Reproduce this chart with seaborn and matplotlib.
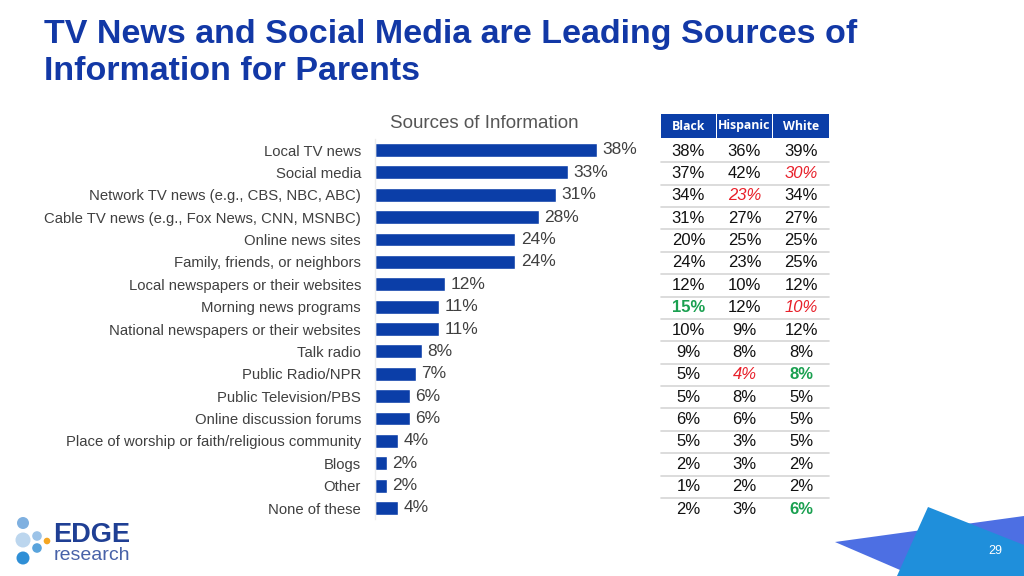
import numpy as np
import pandas as pd
import matplotlib
matplotlib.use("Agg")
import matplotlib.pyplot as plt
import seaborn as sns
from matplotlib.patches import Polygon, Circle, Rectangle

# ---- data ----
sources = [
    "Local TV news", "Social media", "Network TV news (e.g., CBS, NBC, ABC)",
    "Cable TV news (e.g., Fox News, CNN, MSNBC)", "Online news sites",
    "Family, friends, or neighbors", "Local newspapers or their websites",
    "Morning news programs", "National newspapers or their websites",
    "Talk radio", "Public Radio/NPR", "Public Television/PBS",
    "Online discussion forums", "Place of worship or faith/religious community",
    "Blogs", "Other", "None of these",
]
total = [38, 33, 31, 28, 24, 24, 12, 11, 11, 8, 7, 6, 6, 4, 2, 2, 4]
black = [38, 37, 34, 31, 20, 24, 12, 15, 10, 9, 5, 5, 6, 5, 2, 1, 2]
hispanic = [36, 42, 23, 27, 25, 23, 10, 12, 9, 8, 4, 8, 6, 3, 3, 2, 3]
white = [39, 30, 34, 27, 25, 25, 12, 10, 12, 8, 8, 5, 5, 5, 2, 2, 6]
groups = ["Black", "Hispanic", "White"]
# significantly lower (red italic) / higher (green bold): (row, group)
low_cells = [(1, "White"), (2, "Hispanic"), (7, "White"), (10, "Hispanic")]
high_cells = [(7, "Black"), (10, "White"), (16, "White")]

BLUE = "#0b3ea8"
TITLE_BLUE = "#1238a6"
GREY_TXT = "#404040"
RED = "#e8202a"
GREEN = "#1aa050"

sns.set_style("white")
plt.rcParams["font.family"] = ["Liberation Sans", "DejaVu Sans"]

W, H = 1024, 576
fig = plt.figure(figsize=(W / 100, H / 100), dpi=100)

# row geometry (pixels)
row_top, row_bot = 150, 508
step = (row_bot - row_top) / (len(sources) - 1)
ax_top = row_top - step / 2
ax_bot = row_bot + step / 2

# ---- bar chart ----
x0, px_per = 375, 5.84
xmax = 45
ax = fig.add_axes([x0 / W, 1 - ax_bot / H, xmax * px_per / W, (ax_bot - ax_top) / H])
df = pd.DataFrame({"source": sources, "total": total})
sns.barplot(data=df, x="total", y="source", orient="h", color=BLUE,
            saturation=1, width=0.62, ax=ax)
ax.set_xlim(0, xmax)
ax.set_ylim(len(sources) - 0.5, -0.5)
ax.set_xlabel("")
ax.set_ylabel("")
ax.set_xticks([])
ax.tick_params(axis="y", length=0, pad=10, labelsize=10.7, labelcolor=GREY_TXT)
for s in ["top", "right", "bottom"]:
    ax.spines[s].set_visible(False)
ax.spines["left"].set_color("#ececec")
ax.spines["left"].set_linewidth(1)
for i, v in enumerate(total):
    ax.annotate(f"{v}%", (v, i), xytext=(4, 0), textcoords="offset points",
                va="center", ha="left", fontsize=12.5, color=GREY_TXT)
ax.patch.set_alpha(0)

fig.text(484 / W, 1 - 124 / H, "Sources of Information", ha="center", va="center",
         fontsize=13.5, color="#555555")

# ---- table ----
tx0, tx1 = 658, 830
tax = fig.add_axes([tx0 / W, 1 - ax_bot / H, (tx1 - tx0) / W, (ax_bot - 113) / H])
tax.set_xlim(tx0, tx1)
tax.set_ylim(len(sources) - 0.5, (113 - row_top) / step)
tax.axis("off")
col_x = {"Black": (661, 716), "Hispanic": (717, 772), "White": (773, 829)}
head_top = (114 - row_top) / step
head_bot = (138 - row_top) / step
for g in groups:
    a, b = col_x[g]
    tax.add_patch(Rectangle((a, head_top), b - a, head_bot - head_top,
                            color=BLUE, lw=0))
    tax.text((a + b) / 2, (head_top + head_bot) / 2, g, ha="center", va="center",
             color="white", fontsize=8.8, fontweight="bold",
             family=["Open Sans", "DejaVu Sans"])
for i in range(len(sources) - 1):
    tax.plot([661, 829], [i + 0.55, i + 0.55], color="#d6d6d6", lw=1.2)
vals = {"Black": black, "Hispanic": hispanic, "White": white}
for g in groups:
    a, b = col_x[g]
    for i, v in enumerate(vals[g]):
        kw = dict(color="#111111")
        if (i, g) in low_cells:
            kw = dict(color=RED, style="italic")
        elif (i, g) in high_cells:
            kw = dict(color=GREEN, fontweight="bold")
        tax.text((a + b) / 2, i + 0.05, f"{v}%", ha="center", va="center",
                 fontsize=12, **kw)

# ---- title ----
fig.text(44 / W, 1 - 35 / H, "TV News and Social Media are Leading Sources of",
         fontsize=24.5, fontweight="bold", color=TITLE_BLUE, va="center", ha="left")
fig.text(44 / W, 1 - 72 / H, "Information for Parents",
         fontsize=24.5, fontweight="bold", color=TITLE_BLUE, va="center", ha="left")

# ---- decorations (figure pixel coords) ----
deco = fig.add_axes([0, 0, 1, 1], zorder=-1)
deco.set_xlim(0, W)
deco.set_ylim(H, 0)
deco.axis("off")
deco.add_patch(Polygon([(835, 542), (1024, 516), (1024, 576), (914, 576)],
                       color="#4d6fe3", lw=0))
deco.add_patch(Polygon([(928, 507), (1024, 545), (1024, 576), (897, 576)],
                       color="#1f8fdb", lw=0))
deco.text(995, 551, "29", color="white", fontsize=9, ha="center", va="center")

# logo
for (cx, cy, r, c) in [(23, 523, 6, "#7fb0e0"), (23, 540, 7.5, "#bcd6ee"),
                       (37, 536, 4.8, "#9cc3e8"), (37, 548, 4.8, "#5aa4dc"),
                       (23, 558, 6.5, "#2f8fd6"), (47, 541, 3.3, "#f5a623")]:
    deco.add_patch(Circle((cx, cy), r, color=c, lw=0))
deco.text(53, 535, "EDGE", fontsize=19.5, fontweight="bold", color="#1f3f94",
          ha="left", va="center")
deco.text(54, 556, "research", fontsize=14, color="#4862a8",
          ha="left", va="center")

fig.savefig("out.png", dpi=100)
